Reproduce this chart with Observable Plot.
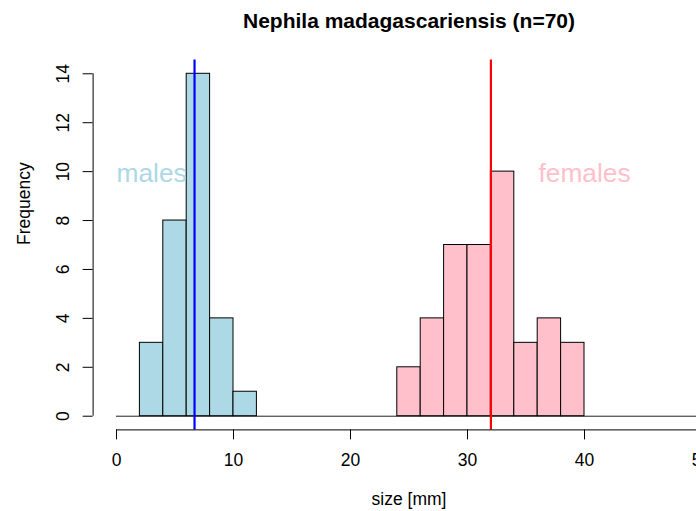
<!DOCTYPE html>
<html>
<head>
<meta charset="utf-8">
<script src="https://cdn.jsdelivr.net/npm/d3@7"></script>
<script src="https://cdn.jsdelivr.net/npm/@observablehq/plot@0.6"></script>
<style>
html, body { margin: 0; padding: 0; background: #fff; overflow: hidden; }
</style>
</head>
<body>
<div id="chart"></div>
<script>
// ---- data ----
const binEdges = [0, 2, 4, 6, 8, 10, 12, 14, 16, 18, 20, 22, 24, 26, 28, 30, 32, 34, 36, 38, 40, 42, 44, 46, 48, 50];
const maleCounts   = [0, 3, 8, 14, 4, 1, 0, 0, 0, 0, 0, 0, 0, 0, 0, 0, 0, 0, 0, 0, 0, 0, 0, 0, 0];
const femaleCounts = [0, 0, 0, 0, 0, 0, 0, 0, 0, 0, 0, 0, 2, 4, 7, 7, 10, 3, 4, 3, 0, 0, 0, 0, 0];
const maleMean = 6.67;
const femaleMean = 32.0;
const xTicks = [0, 10, 20, 30, 40, 50];
const yTicks = [0, 2, 4, 6, 8, 10, 12, 14];
const groupNames = ["males", "females"];
const groupLabelX = [3, 40];
const groupLabelY = [10, 10];
const titleText = "Nephila madagascariensis (n=70)";
const xLabel = "size [mm]";
const yLabel = "Frequency";

// ---- tables built from the arrays ----
const maleBins = maleCounts.map((c, i) => ({lo: binEdges[i], hi: binEdges[i + 1], count: c})).filter(d => d.count > 0);
const femaleBins = femaleCounts.map((c, i) => ({lo: binEdges[i], hi: binEdges[i + 1], count: c})).filter(d => d.count > 0);

// R-style 4% domain extension
const xDomain = [binEdges[0] - 0.04 * (binEdges.at(-1) - binEdges[0]), binEdges.at(-1) + 0.04 * (binEdges.at(-1) - binEdges[0])];
const yMax = d3.max([...maleCounts, ...femaleCounts]);
const yDomain = [-0.04 * yMax, yMax * 1.04];

const font = "'Liberation Sans', Arial, Helvetica, sans-serif";
const fs = 17.5;

const chart = Plot.plot({
  width: 696,
  height: 511,
  marginLeft: 92.6,
  marginRight: -28.4,
  marginTop: 59.6,
  marginBottom: 81.6,
  style: {fontFamily: font, fontSize: fs + "px", background: "white", color: "black"},
  x: {domain: xDomain},
  y: {domain: yDomain},
  marks: [
    // histogram baseline (empty bins)
    Plot.ruleY([0], {x1: binEdges[0], x2: binEdges.at(-1), stroke: "#222", strokeWidth: 1}),
    Plot.rect(maleBins, {x1: "lo", x2: "hi", y1: 0, y2: "count", fill: "lightblue", stroke: "black", strokeWidth: 1}),
    Plot.rect(femaleBins, {x1: "lo", x2: "hi", y1: 0, y2: "count", fill: "pink", stroke: "black", strokeWidth: 1}),
    // mean lines
    Plot.ruleX([maleMean], {stroke: "blue", strokeWidth: 2.2}),
    Plot.ruleX([femaleMean], {stroke: "red", strokeWidth: 2.2}),
    // group labels
    Plot.text([groupNames[0]], {x: groupLabelX[0], y: groupLabelY[0], fill: "lightblue", fontSize: 26.3, dy: 2}),
    Plot.text([groupNames[1]], {x: groupLabelX[1], y: groupLabelY[1], fill: "pink", fontSize: 26.3, dy: 2}),
    // axes
    Plot.ruleY([yDomain[0]], {x1: xTicks[0], x2: xTicks.at(-1), stroke: "black", strokeWidth: 1}),
    Plot.ruleX([xDomain[0]], {y1: yTicks[0], y2: yTicks.at(-1), stroke: "black", strokeWidth: 1}),
    Plot.axisX(xTicks, {anchor: "bottom", tickSize: 10, tickPadding: 14, fontSize: fs, label: null, tickFormat: d => String(d)}),
    Plot.axisY(yTicks, {anchor: "left", tickSize: 10, tickPadding: 14, tickRotate: -90, fontSize: fs, label: null, tickFormat: d => String(d)}),
    // titles
    Plot.text([titleText], {frameAnchor: "top", dy: -32.6, lineAnchor: "bottom", fontWeight: "bold", fontSize: 21}),
    Plot.text([xLabel], {frameAnchor: "bottom", dy: 74.6, lineAnchor: "bottom", fontSize: fs}),
    Plot.text([yLabel], {frameAnchor: "left", dx: -63.4, rotate: -90, lineAnchor: "bottom", fontSize: fs})
  ]
});
document.getElementById("chart").appendChild(chart);
</script>
</body>
</html>
